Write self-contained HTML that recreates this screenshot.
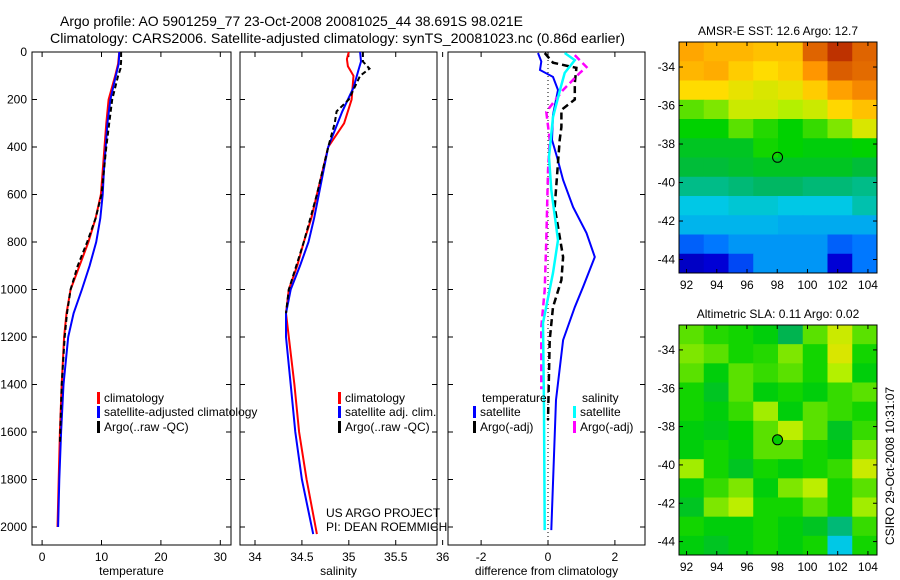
<!DOCTYPE html>
<html><head><meta charset="utf-8">
<style>
html,body{margin:0;padding:0;background:#fff;}
svg{display:block;font-family:"Liberation Sans",sans-serif;}
text{font-size:12px;fill:#000;}
</style></head>
<body>
<svg id="chart" width="900" height="580" viewBox="0 0 900 580" xmlns="http://www.w3.org/2000/svg">
<text x="60" y="26" textLength="463" lengthAdjust="spacingAndGlyphs" style="font-size:14px">Argo profile: AO 5901259_77 23-Oct-2008 20081025_44 38.691S 98.021E</text>
<text x="50" y="43" textLength="575" lengthAdjust="spacingAndGlyphs" style="font-size:14px">Climatology: CARS2006. Satellite-adjusted climatology: synTS_20081023.nc (0.86d earlier)</text>
<g id="plots"></g>
<text x="326" y="517">US ARGO PROJECT</text>
<text x="326" y="531">PI: DEAN ROEMMICH</text>
<text transform="translate(894,545) rotate(-90)">CSIRO 29-Oct-2008 10:31:07</text>
</svg>
<script>
// ---- data ----
const depthTicks = [0,200,400,600,800,1000,1200,1400,1600,1800,2000];
const tempTicks = [0,10,20,30];
const salTicks = [34,34.5,35,35.5,36];
const diffTicks = [-2,0,2];
const tempClimDepth = [0,50,100,200,300,400,500,600,700,800,900,1000,1100,1200,1400,1600,1800,2000];
const tempClim = [13.0,12.8,12.3,11.2,10.8,10.5,10.2,9.9,9.0,7.8,6.3,4.8,4.1,3.7,3.3,3.0,2.8,2.6];
const tempSatDepth = [0,50,100,200,300,400,500,600,700,800,900,1000,1100,1200,1400,1600,1800,2000];
const tempSat = [13.0,12.9,12.4,11.5,11.0,10.7,10.4,10.2,9.8,9.1,8.0,6.7,5.3,4.4,3.6,3.2,2.9,2.7];
const tempArgoDepth = [0,40,70,100,200,300,400,500,600,700,800,900,1000,1100,1200,1400,1650];
const tempArgo = [13.3,13.3,13.2,12.8,11.8,11.3,10.8,10.4,10.0,9.0,7.6,6.0,4.8,4.2,3.8,3.3,3.0];
const salClimDepth = [0,30,60,100,200,300,400,500,600,700,800,900,1000,1100,1200,1400,1600,1800,2030];
const salClim = [35.0,34.98,34.99,35.05,35.03,34.95,34.78,34.72,34.66,34.6,34.52,34.45,34.36,34.33,34.36,34.42,34.47,34.55,34.66];
const salSatDepth = [0,40,80,150,250,400,500,600,700,800,900,1000,1100,1200,1400,1600,1800,2030];
const salSat = [35.12,35.13,35.1,35.05,34.93,34.78,34.73,34.68,34.63,34.57,34.48,34.38,34.33,34.33,34.38,34.43,34.5,34.62];
const salArgoDepth = [0,40,70,100,200,250,300,400,600,800,1000,1100];
const salArgo = [35.15,35.15,35.22,35.12,35.0,34.87,34.85,34.78,34.66,34.52,34.36,34.33];
const dTempSatDepth = [4,40,76,105,160,265,370,442,539,653,762,863,989,1074,1213,1465,2013];
const dTempSat = [-0.3,-0.2,-0.24,0.15,0.3,0.15,0.12,0.27,0.45,0.75,1.15,1.4,1.05,0.8,0.45,0.24,0.1];
const dTempArgoDepth = [4,45,67,130,200,244,316,370,653,863,960,1074,1213,1550];
const dTempArgo = [-0.1,0.15,0.85,0.8,0.8,0.4,0.4,0.35,0.2,0.45,0.4,0.15,0.05,0.0];
const dSalSatDepth = [4,34,88,160,274,442,581,792,930,1141,1500,2013];
const dSalSat = [0.5,0.8,0.5,0.36,0.15,0.03,0.1,0.3,0.15,-0.15,-0.12,-0.1];
const dSalArgoDepth = [13,63,88,160,252,370,500,792,1002,1158,1420];
const dSalArgo = [0.8,1.15,0.95,0.45,-0.05,0.05,0.0,-0.05,-0.1,-0.2,-0.2];
const mapLonTicks = [92,94,96,98,100,102,104];
const mapLatTicks = [-34,-36,-38,-40,-42,-44];
const sstGrid = [
[0.75,0.72,0.72,0.7,0.7,0.85,0.92,0.85],
[0.72,0.74,0.68,0.65,0.68,0.78,0.86,0.84],
[0.65,0.65,0.62,0.6,0.62,0.68,0.76,0.8],
[0.5,0.52,0.58,0.58,0.55,0.58,0.66,0.7],
[0.45,0.45,0.5,0.47,0.45,0.48,0.52,0.6],
[0.42,0.42,0.42,0.46,0.45,0.44,0.44,0.45],
[0.4,0.4,0.41,0.42,0.42,0.42,0.42,0.4],
[0.35,0.35,0.36,0.37,0.37,0.36,0.36,0.35],
[0.3,0.3,0.31,0.31,0.3,0.3,0.3,0.33],
[0.28,0.28,0.28,0.28,0.27,0.27,0.27,0.27],
[0.2,0.22,0.25,0.25,0.25,0.25,0.2,0.22],
[0.08,0.1,0.18,0.25,0.25,0.25,0.1,0.22]];
const slaGrid = [
[0.5,0.47,0.46,0.44,0.38,0.5,0.58,0.5],
[0.52,0.5,0.46,0.47,0.52,0.46,0.6,0.46],
[0.5,0.44,0.5,0.48,0.5,0.46,0.55,0.44],
[0.46,0.42,0.5,0.44,0.46,0.44,0.48,0.5],
[0.46,0.44,0.48,0.54,0.44,0.5,0.48,0.46],
[0.44,0.43,0.45,0.5,0.56,0.5,0.42,0.48],
[0.44,0.46,0.44,0.5,0.5,0.46,0.44,0.52],
[0.54,0.46,0.42,0.46,0.44,0.46,0.48,0.58],
[0.44,0.48,0.52,0.44,0.52,0.56,0.46,0.5],
[0.42,0.52,0.56,0.46,0.46,0.5,0.46,0.54],
[0.46,0.44,0.44,0.46,0.44,0.42,0.36,0.48],
[0.44,0.42,0.44,0.46,0.44,0.46,0.3,0.46]];

const NS='http://www.w3.org/2000/svg';
const root=document.getElementById('plots');
function el(tag,attrs,parent){const e=document.createElementNS(NS,tag);for(const k in attrs)e.setAttribute(k,attrs[k]);(parent||root).appendChild(e);return e;}
const yTop=52, yBot=545;
function yDepth(d){return yTop + d*0.2375;}

function panel(name,x0,x1,vmin,vmax,ticks,label,showDepth){
  const g=el('g',{});
  
  
  const fx=v=>x0+(v-vmin)/(vmax-vmin)*(x1-x0);
  const r=el('rect',{x:x0,y:yTop,width:x1-x0,height:yBot-yTop,fill:'none',stroke:'#000','stroke-width':1},g);
  
  
  ticks.forEach(t=>{
    const x=fx(t);
    el('line',{x1:x,x2:x,y1:yBot,y2:yBot-5,stroke:'#000'},g);
    el('line',{x1:x,x2:x,y1:yTop,y2:yTop+5,stroke:'#000'},g);
    const tx=el('text',{x:x,y:yBot+16,'text-anchor':'middle'},g);tx.textContent=String(t);
    
    
  });
  depthTicks.forEach(d=>{
    const y=yDepth(d);
    el('line',{x1:x0,x2:x0+5,y1:y,y2:y,stroke:'#000'},g);
    el('line',{x1:x1,x2:x1-5,y1:y,y2:y,stroke:'#000'},g);
    if(showDepth){const t=el('text',{x:x0-5,y:y+4,'text-anchor':'end'},g);t.textContent=String(d);
      
      }
  });
  const lb=el('text',{x:(x0+x1)/2,y:575,'text-anchor':'middle'},g);lb.textContent=label;
  
  
  return {g,fx};
}
function line(p,name,depths,vals,color,dash,w){
  const pts=depths.map((d,i)=>p.fx(vals[i]).toFixed(1)+','+yDepth(d).toFixed(1)).join(' ');
  const l=el('polyline',{points:pts,fill:'none',stroke:color,'stroke-width':w||2,'stroke-dasharray':dash||'none'},p.g);
  
  
}
function legend(p,x,y,color,txt,name){
  el('rect',{x:x,y:y-10,width:3,height:12,fill:color},p.g);
  const t=el('text',{x:x+7,y:y},p.g);t.textContent=txt;
  
  
}
const p1=panel('temperature',32,231,-1.7,31.8,tempTicks,'temperature',true);
line(p1,'temp-climatology-line',tempClimDepth,tempClim,'#f00');
line(p1,'temp-satellite-line',tempSatDepth,tempSat,'#00f');
line(p1,'temp-argo-line',tempArgoDepth,tempArgo,'#000','5,3');
legend(p1,97,402,'#f00','climatology','legend-climatology');
legend(p1,97,416,'#00f','satellite-adjusted climatology','legend-satellite');
legend(p1,97,431,'#000','Argo(..raw -QC)','legend-argo');

const p2=panel('salinity',240,437,33.84,35.94,salTicks,'salinity',false);
line(p2,'sal-climatology-line',salClimDepth,salClim,'#f00');
line(p2,'sal-satellite-line',salSatDepth,salSat,'#00f');
line(p2,'sal-argo-line',salArgoDepth,salArgo,'#000','5,3');
legend(p2,338,402,'#f00','climatology','legend-sal-climatology');
legend(p2,338,416,'#00f','satellite adj. clim.','legend-sal-satellite');
legend(p2,338,431,'#000','Argo(..raw -QC)','legend-sal-argo');

const p3=panel('difference',448,645,-2.99,2.9,diffTicks,'difference from climatology',false);
el('line',{x1:p3.fx(0),x2:p3.fx(0),y1:yTop,y2:yBot,stroke:'#000','stroke-dasharray':'1,3'},p3.g);
line(p3,'diff-temp-satellite-line',dTempSatDepth,dTempSat,'#00f');
line(p3,'diff-temp-argo-line',dTempArgoDepth,dTempArgo,'#000','7,4',2.5);
line(p3,'diff-sal-argo-line',dSalArgoDepth,dSalArgo,'#f0f','7,4',2.5);
line(p3,'diff-sal-satellite-line',dSalSatDepth,dSalSat,'#0ff',null,2.5);
const tt=el('text',{x:482,y:402},p3.g);tt.textContent='temperature';


const st=el('text',{x:582,y:402},p3.g);st.textContent='salinity';


legend(p3,473,416,'#00f','satellite','legend-diff-temp-satellite');
legend(p3,473,431,'#000','Argo(-adj)','legend-diff-temp-argo');
legend(p3,573,416,'#0ff','satellite','legend-diff-sal-satellite');
legend(p3,573,431,'#f0f','Argo(-adj)','legend-diff-sal-argo');

function jet(v){
  const stops=[[0,[0,0,130]],[0.12,[0,0,230]],[0.22,[0,120,255]],[0.3,[0,200,230]],[0.38,[0,180,80]],[0.45,[0,210,0]],[0.55,[180,240,0]],[0.65,[255,220,0]],[0.78,[255,150,0]],[0.92,[190,50,0]],[1,[130,0,0]]];
  for(let i=1;i<stops.length;i++){if(v<=stops[i][0]){const a=stops[i-1],b=stops[i],t=(v-a[0])/(b[0]-a[0]);
    return 'rgb('+a[1].map((c,k)=>Math.round(c+(b[1][k]-c)*t)).join(',')+')';}}
  return 'rgb(130,0,0)';
}
function map(name,x0,x1,y0,y1,grid,title,latTop,latBot){
  const g=el('g',{});
  
  
  const lonMin=91.5,lonMax=104.6;
  const fx=v=>x0+(v-lonMin)/(lonMax-lonMin)*(x1-x0);
  const fy=v=>y0+(latTop-v)/(latTop-latBot)*(y1-y0);
  const rows=grid.length,cols=grid[0].length,cw=(x1-x0)/cols,ch=(y1-y0)/rows;
  grid.forEach((row,i)=>row.forEach((v,j)=>{
    const c=el('rect',{x:x0+j*cw,y:y0+i*ch,width:cw+0.5,height:ch+0.5,fill:jet(v)},g);
    
    
  }));
  el('rect',{x:x0,y:y0,width:x1-x0,height:y1-y0,fill:'none',stroke:'#000'},g);
  mapLonTicks.forEach(t=>{const x=fx(t);
    el('line',{x1:x,x2:x,y1:y1,y2:y1-4,stroke:'#000'},g);el('line',{x1:x,x2:x,y1:y0,y2:y0+4,stroke:'#000'},g);
    const tx=el('text',{x:x,y:y1+16,'text-anchor':'middle'},g);tx.textContent=String(t);
    
    });
  mapLatTicks.forEach(t=>{const y=fy(t);
    el('line',{x1:x0,x2:x0+4,y1:y,y2:y,stroke:'#000'},g);el('line',{x1:x1,x2:x1-4,y1:y,y2:y,stroke:'#000'},g);
    const tx=el('text',{x:x0-4,y:y+4,'text-anchor':'end'},g);tx.textContent=String(t);
    
    });
  const tt=el('text',{x:(x0+x1)/2,y:y0-7,'text-anchor':'middle'},g);tt.textContent=title;
  
  
  const m=el('circle',{cx:fx(98.02),cy:fy(-38.69),r:5,fill:name==='sla-map'?'#0c0':'none',stroke:'#000'},g);
  
  
}
map('sst-map',679,877,42,273,sstGrid,'AMSR-E SST: 12.6  Argo: 12.7',-32.7,-44.7);
map('sla-map',679,877,325,555,slaGrid,'Altimetric SLA: 0.11  Argo: 0.02',-32.7,-44.7);
</script>
</body></html>
